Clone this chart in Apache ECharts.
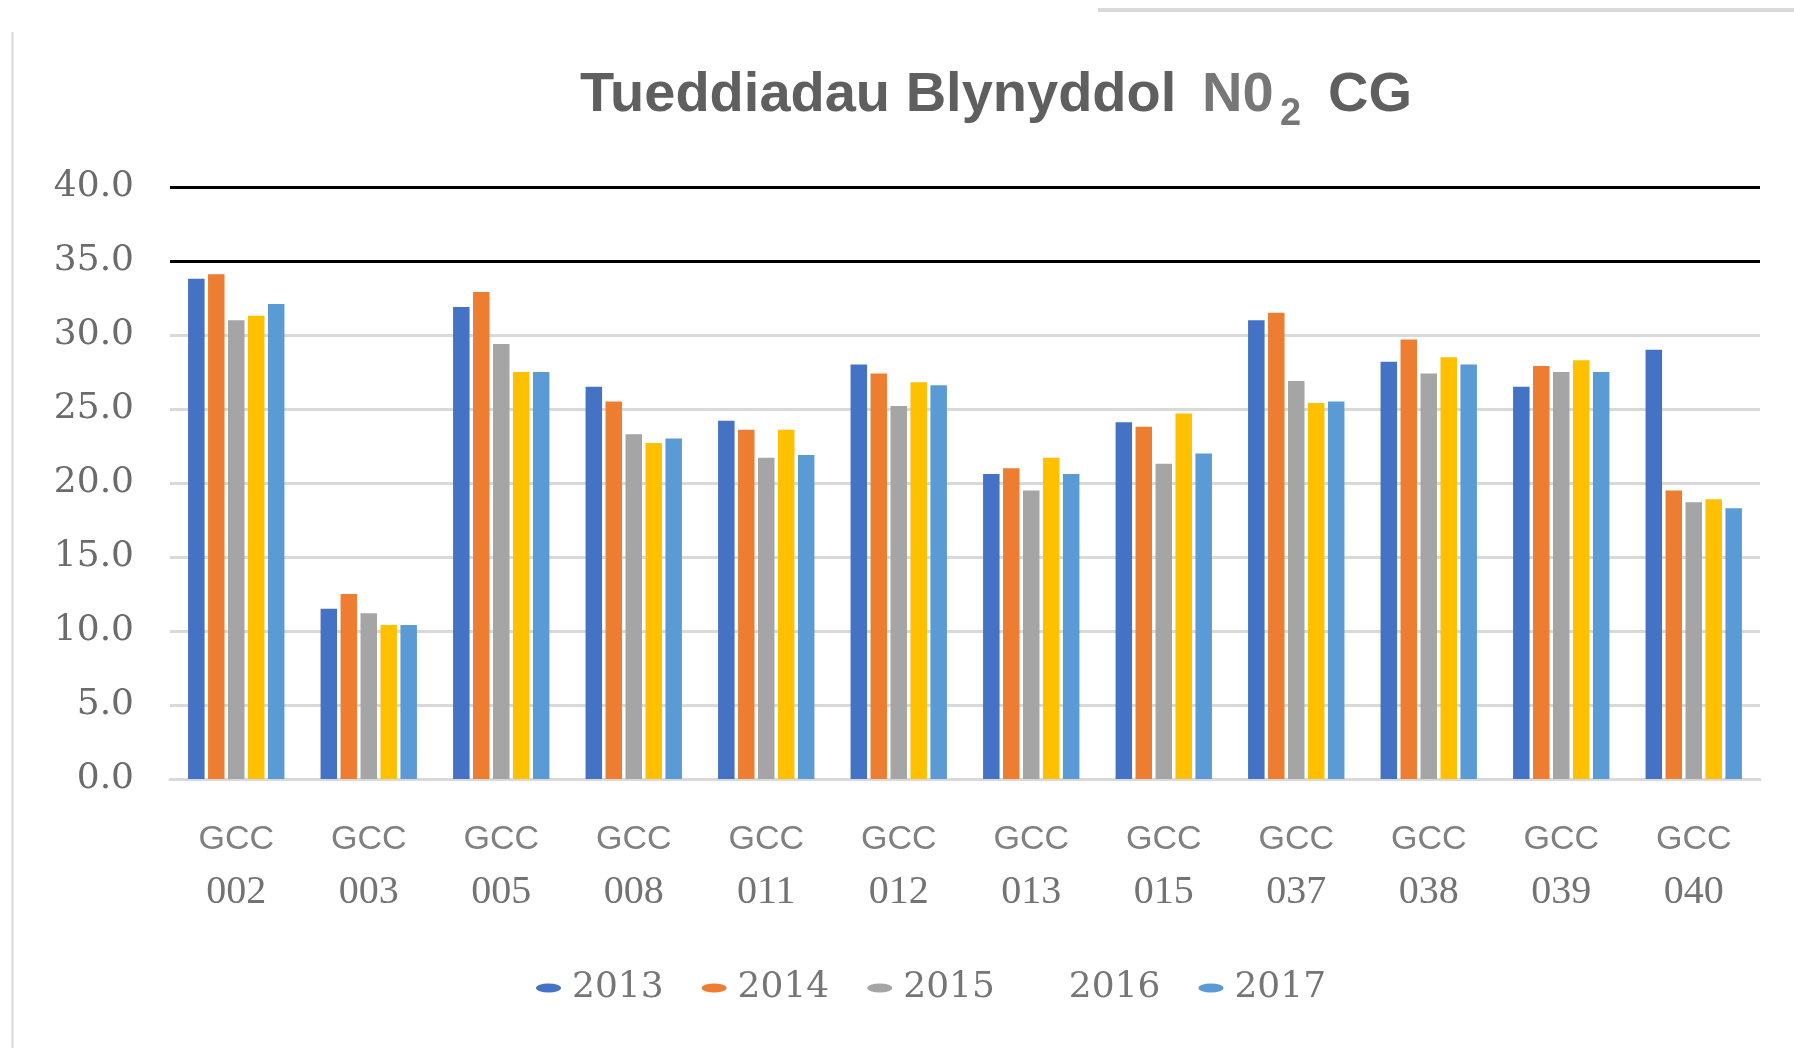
<!DOCTYPE html>
<html>

	<head>
		<meta charset="utf-8">
		<title>Tueddiadau Blynyddol NO2 CG</title>
		<style>
			html, body { margin: 0; padding: 0; background: #fff; }
			#chart_no2 { width: 1794px; height: 1048px; }
		</style>
	</head>

	<body>

		<div id="chart_no2"></div>

		<script src="https://cdn.jsdelivr.net/npm/echarts/dist/echarts.min.js"></script>
		<script type="text/javascript">
			// safleoedd tiwbiau tryledu
			var sites = ['002', '003', '005', '008', '011', '012', '013', '015', '037', '038', '039', '040'];
			var years = ['2013', '2014', '2015', '2016', '2017'];

			var y2013 = [33.8, 11.5, 31.9, 26.5, 24.2, 28.0, 20.6, 24.1, 31.0, 28.2, 26.5, 29.0];
			var y2014 = [34.1, 12.5, 32.9, 25.5, 23.6, 27.4, 21.0, 23.8, 31.5, 29.7, 27.9, 19.5];
			var y2015 = [31.0, 11.2, 29.4, 23.3, 21.7, 25.2, 19.5, 21.3, 26.9, 27.4, 27.5, 18.7];
			var y2016 = [31.3, 10.4, 27.5, 22.7, 23.6, 26.8, 21.7, 24.7, 25.4, 28.5, 28.3, 18.9];
			var y2017 = [32.1, 10.4, 27.5, 23.0, 21.9, 26.6, 20.6, 22.0, 25.5, 28.0, 27.5, 18.3];

			var yTicks = [0, 5, 10, 15, 20, 25, 30, 35, 40];

			var values = [y2013, y2014, y2015, y2016, y2017];
			var colors = ['#4472C4', '#ED7D31', '#A5A5A5', '#FFC000', '#5B9BD5'];

			// llinellau grid: llwyd, ond 35 a 40 yn ddu
			var splitColors = yTicks.map(function(t) {
				return t >= 35 ? '#000000' : '#d9d9d9';
			});

			var series = years.map(function(y, i) {
				return {
					name: y,
					type: 'bar',
					barWidth: 16.5,
					barGap: '21%',
					itemStyle: {
						color: colors[i]
					},
					data: values[i]
				};
			});

			var legendData = years.map(function(y, i) {
				var item = { name: y };
				// 2016 heb symbol yn yr allwedd
				if(y === '2016') {
					item.itemStyle = { opacity: 0 };
				}
				return item;
			});

			var titleFont = { fontFamily: 'Liberation Sans', fontWeight: 'bold', fontSize: 56, color: '#5f5f5f' };

			var myChart = echarts.init(document.getElementById('chart_no2'), null, { renderer: 'canvas' });

			myChart.setOption({
				backgroundColor: '#ffffff',
				animation: false,
				title: [{
					text: 'Tueddiadau Blynyddol',
					left: 580,
					top: 68,
					padding: 0,
					textStyle: titleFont
				}, {
					text: 'N0',
					left: 1202,
					top: 68,
					padding: 0,
					textStyle: { fontFamily: 'Liberation Sans', fontWeight: 'bold', fontSize: 56, color: '#777777' }
				}, {
					text: '2',
					left: 1280,
					top: 96,
					padding: 0,
					textStyle: { fontFamily: 'Liberation Sans', fontWeight: 'bold', fontSize: 38, color: '#777777' }
				}, {
					text: 'CG',
					left: 1328,
					top: 68,
					padding: 0,
					textStyle: titleFont
				}],
				legend: {
					data: legendData,
					left: 536,
					top: 970,
					padding: 0,
					itemWidth: 25,
					itemHeight: 9,
					itemGap: 38,
					icon: 'path://M0,5 A12.5,4.5 0 1,0 25,5 A12.5,4.5 0 1,0 0,5 Z',
					textStyle: {
						fontFamily: 'DejaVu Serif',
						fontSize: 36,
						color: '#767676',
						padding: [0, 0, 0, 6]
					}
				},
				grid: {
					left: 170,
					right: 34,
					top: 187,
					bottom: 269,
					containLabel: false
				},
				xAxis: {
					type: 'category',
					data: sites,
					axisTick: { show: false },
					axisLine: {
						lineStyle: { color: '#d9d9d9', width: 3 }
					},
					axisLabel: {
						margin: 35,
						interval: 0,
						formatter: function(v) {
							return '{g|GCC}\n{n|' + v + '}';
						},
						rich: {
							g: { fontFamily: 'Liberation Sans', fontSize: 34, color: '#808080', lineHeight: 52, align: 'center' },
							n: { fontFamily: 'Liberation Serif', fontSize: 40, color: '#737373', lineHeight: 52, align: 'center' }
						}
					}
				},
				yAxis: {
					type: 'value',
					min: 0,
					max: 40,
					interval: 5,
					axisLine: { show: false },
					axisTick: { show: false },
					axisLabel: {
						margin: 36,
						fontFamily: 'DejaVu Serif',
						fontSize: 36,
						color: '#6b6b6b',
						formatter: function(v) {
							return v.toFixed(1);
						}
					},
					splitLine: {
						lineStyle: { color: splitColors, width: 3 }
					}
				},
				graphic: [{
					type: 'line',
					shape: { x1: 12.5, y1: 32, x2: 12.5, y2: 1048 },
					style: { stroke: '#d9d9d9', lineWidth: 2 }
				}, {
					type: 'line',
					shape: { x1: 1098, y1: 10, x2: 1794, y2: 10 },
					style: { stroke: '#d9d9d9', lineWidth: 4 }
				}],
				series: series
			});
		</script>

	</body>

</html>
